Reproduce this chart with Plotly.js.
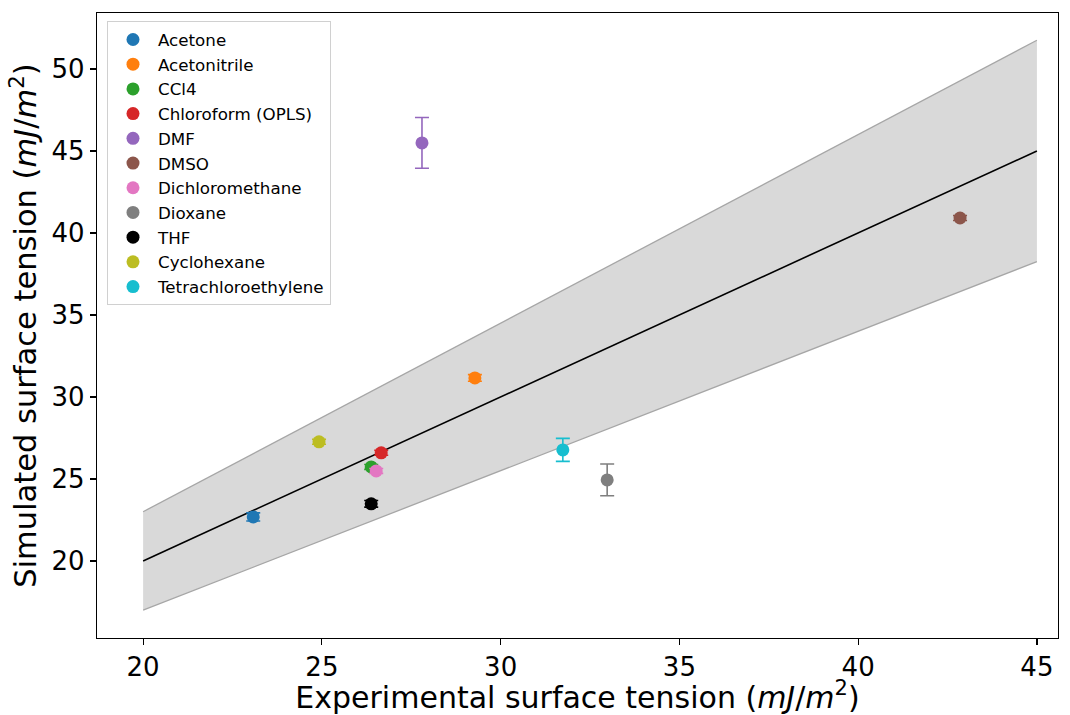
<!DOCTYPE html>
<html>
<head>
<meta charset="utf-8">
<script src="https://cdn.plot.ly/plotly-3.0.1.min.js"></script>
<style>html,body{margin:0;padding:0;background:#fff;}#chart{width:1070px;height:715px;}</style>
</head>
<body>
<div id="chart"></div>
<script>
const solvents = ["Acetone","Acetonitrile","CCl4","Chloroform (OPLS)","DMF","DMSO","Dichloromethane","Dioxane","THF","Cyclohexane","Tetrachloroethylene"];
const experimental = [23.08, 29.28, 26.38, 26.66, 27.80, 42.85, 26.52, 32.98, 26.38, 24.92, 31.74];
const simulated = [22.68, 31.16, 25.73, 26.59, 45.49, 40.91, 25.49, 24.94, 23.48, 27.26, 26.77];
const simError = [0.25, 0.2, 0.15, 0.15, 1.55, 0.15, 0.15, 0.97, 0.2, 0.15, 0.7];
const colors = ["#1f77b4","#ff7f0e","#2ca02c","#d62728","#9467bd","#8c564b","#e377c2","#7f7f7f","#000000","#bcbd22","#17becf"];
const parityX = [20, 45];
const bandFraction = 0.15;

const traces = [];
traces.push({
  x: parityX, y: parityX.map(v => v * (1 - bandFraction)),
  mode: "lines", line: {color: "#a6a6a6", width: 1.3},
  showlegend: false, hoverinfo: "skip"
});
traces.push({
  x: parityX, y: parityX.map(v => v * (1 + bandFraction)),
  mode: "lines", line: {color: "#a6a6a6", width: 1.3},
  fill: "tonexty", fillcolor: "#d9d9d9",
  showlegend: false, hoverinfo: "skip"
});
traces.push({
  x: parityX, y: parityX,
  mode: "lines", line: {color: "#000000", width: 1.6},
  showlegend: false, hoverinfo: "skip"
});
solvents.forEach((name, i) => {
  traces.push({
    x: [experimental[i]], y: [simulated[i]], name: name, legendgroup: "g" + i,
    mode: "markers", type: "scatter",
    marker: {color: colors[i], size: 13},
    error_y: {type: "data", array: [simError[i]], visible: true, color: colors[i], thickness: 1.6, width: 7}
  });
});

const layout = {
  width: 1070, height: 715,
  margin: {l: 97, r: 12, t: 13, b: 77},
  paper_bgcolor: "#ffffff", plot_bgcolor: "#ffffff",
  font: {family: "DejaVu Sans, sans-serif", color: "#000"},
  showlegend: true,
  legend: {
    x: 0.0104, y: 0.987, xanchor: "left", yanchor: "top",
    bgcolor: "rgba(255,255,255,0.9)", bordercolor: "#d0d0d0", borderwidth: 1,
    font: {size: 16.7, family: "DejaVu Sans, sans-serif"},
    traceorder: "normal", tracegroupgap: 2.3, itemwidth: 40
  },
  xaxis: {
    range: [18.71, 45.59],
    tickvals: [20, 25, 30, 35, 40, 45],
    tickfont: {size: 26},
    ticks: "outside", ticklen: 6, tickwidth: 1.2, tickcolor: "#000",
    showline: true, linecolor: "#000", linewidth: 1.2, mirror: true,
    showgrid: false, zeroline: false,
    title: {text: "Experimental surface tension (<i>mJ</i>/<i>m</i><sup>2</sup>)", font: {size: 30}, standoff: 7}
  },
  yaxis: {
    range: [15.3, 53.41],
    tickvals: [20, 25, 30, 35, 40, 45, 50],
    tickfont: {size: 26},
    ticks: "outside", ticklen: 6, tickwidth: 1.2, tickcolor: "#000",
    showline: true, linecolor: "#000", linewidth: 1.2, mirror: true,
    showgrid: false, zeroline: false,
    title: {text: "Simulated surface tension (<i>mJ</i>/<i>m</i><sup>2</sup>)", font: {size: 30.5}, standoff: 5}
  }
};

Plotly.newPlot("chart", traces, layout, {displayModeBar: false, staticPlot: true});
</script>
</body>
</html>
